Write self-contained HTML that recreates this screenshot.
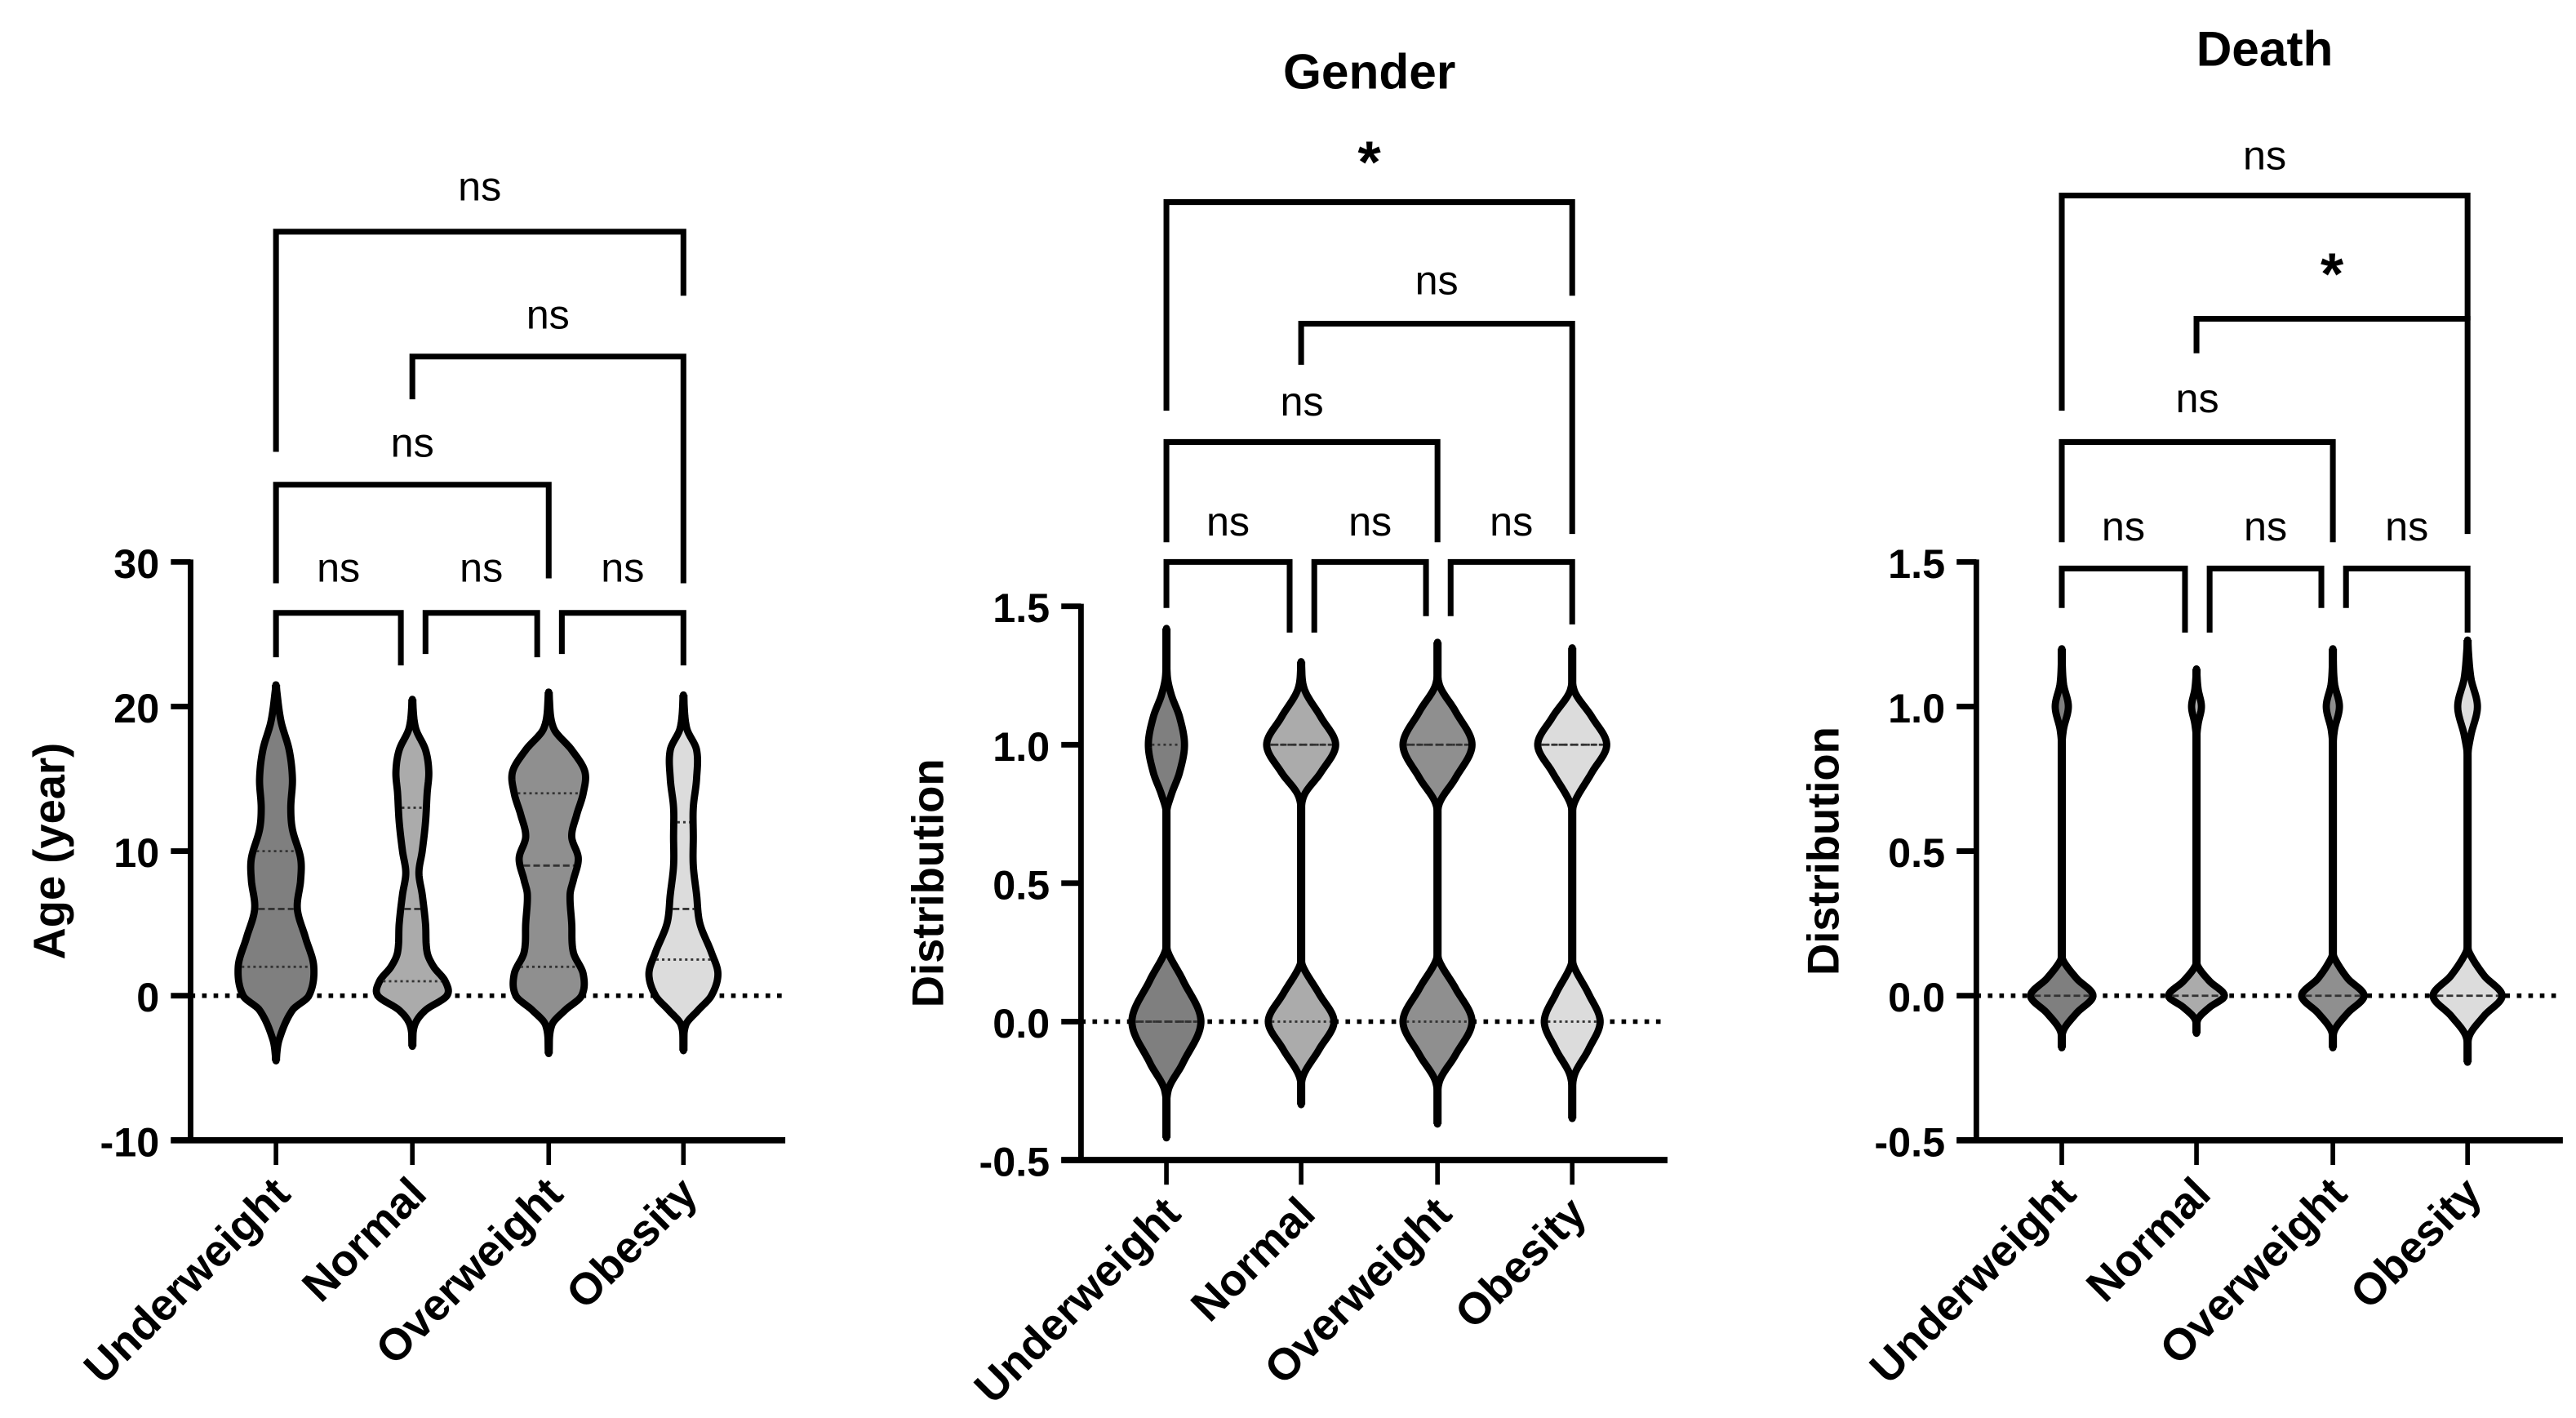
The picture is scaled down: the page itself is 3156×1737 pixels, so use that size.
<!DOCTYPE html>
<html><head><meta charset="utf-8"><style>
html,body{margin:0;padding:0;background:#fff}
svg{display:block}
text{font-family:"Liberation Sans",Arial,sans-serif;fill:#000}
</style></head>
<body>
<svg id="chart" xmlns="http://www.w3.org/2000/svg" width="3156" height="1737" viewBox="0 0 1568 863" preserveAspectRatio="none"></svg>
<script>
const categories = ['Underweight','Normal','Overweight','Obesity'];
const fills = ['#7f7f7f','#ababab','#8f8f8f','#dcdcdc'];

// Age panel: density knots [value, density]
const ageUnderweight = [[-4.5,0],[-3,2],[-1,10],[0,20],[2,23],[4,18],[6,13],[8,15],[9.5,15],[11.5,10],[13,9],[15,10],[17,8],[19,3],[21.5,0]];
const ageNormal = [[-3.5,0],[-2,1.5],[-1,8],[0,21],[1,20],[2,13],[3,9],[5,8],[7,6],[8.5,4],[10,6],[12,8],[14,9],[15.5,10],[17,8],[18.5,2],[20.5,0]];
const ageOverweight = [[-4,0],[-2,2],[-1,10],[0,20],[1.5,21],[3,15],[5,14],[7,13],[8,15],[9.5,18],[11,14],[12.5,17],[14,21],[15.5,22],[17,14],[18.5,3],[21,0]];
const ageObesity = [[-3.8,0],[-2,1.5],[-1,9],[0,17],[1.5,21],[3,17],[5,10],[7,8],[9,6],[11,6],[13,6],[15,8],[17,8],[18.5,2],[20.8,0]];
const ageMedians = [6,6,9,6];
const ageQ1 = [2,1,2,2.5];
const ageQ3 = [10,13,14,12];

// Gender panel
const genUnderweight = [[-0.42,0],[-0.25,1],[-0.15,10],[0,21],[0.15,10],[0.25,1],[0.3,0],[0.75,0],[0.82,3],[0.9,8],[1,11],[1.1,8],[1.18,3],[1.25,0.5],[1.42,0]];
const genNormal = [[-0.3,0],[-0.2,1],[-0.1,11],[0,20],[0.1,11],[0.2,1],[0.25,0],[0.75,0],[0.82,2],[0.9,12],[1,21],[1.1,12],[1.2,2],[1.3,0]];
const genOverweight = [[-0.37,0],[-0.22,1],[-0.12,11],[0,21],[0.12,11],[0.22,1],[0.28,0],[0.75,0],[0.8,2],[0.88,11],[1,21],[1.12,11],[1.22,1],[1.37,0]];
const genObesity = [[-0.35,0],[-0.2,1],[-0.1,10],[0,17],[0.1,10],[0.2,1],[0.25,0],[0.75,0],[0.8,2],[0.9,12],[1,21],[1.1,12],[1.2,1],[1.35,0]];
const genMedians = [0,1,1,1];
const genQ1 = [0,0,0,0];
const genQ3 = [1,1,1,1];

// Death panel
const deathUnderweight = [[-0.18,0],[-0.12,1],[-0.06,9],[0,19],[0.06,9],[0.12,1],[0.15,0],[0.85,0],[0.92,1],[1,4],[1.08,1],[1.2,0]];
const deathNormal = [[-0.13,0],[-0.08,1],[-0.04,8],[0,17],[0.05,8],[0.1,1],[0.13,0],[0.88,0],[0.94,1],[1,3],[1.06,1],[1.13,0]];
const deathOverweight = [[-0.18,0],[-0.12,1],[-0.06,9],[0,19],[0.06,9],[0.13,1],[0.16,0],[0.85,0],[0.92,1],[1,4],[1.08,1],[1.2,0]];
const deathObesity = [[-0.23,0],[-0.14,1],[-0.07,10],[0,21],[0.07,10],[0.15,1],[0.19,0],[0.82,0],[0.9,2],[1,6],[1.1,2],[1.23,0]];
const deathMedians = [0,0,0,0];

const ageTicks = [30,20,10,0,-10];
const ageTickLabels = ['30','20','10','0','-10'];
const distTicks = [1.5,1.0,0.5,0.0,-0.5];
const distTickLabels = ['1.5','1.0','0.5','0.0','-0.5'];

const ageSig = ['ns','ns','ns','ns','ns','ns'];
const genSig = ['ns','ns','ns','ns','ns','*'];
const deathSig = ['ns','ns','ns','ns','*','ns'];

const NS='http://www.w3.org/2000/svg';
const svg=document.getElementById('chart');
function el(tag,attrs,parent){const e=document.createElementNS(NS,tag);for(const k in attrs)e.setAttribute(k,attrs[k]);(parent||svg).appendChild(e);return e;}

function interp(knots,v){
  if(v<=knots[0][0]||v>=knots[knots.length-1][0])return 0;
  let i=0;while(knots[i+1][0]<v)i++;
  const p0=knots[i],p1=knots[i+1];
  const h=p1[0]-p0[0],t=(v-p0[0])/h;
  const slope=(a,b)=>(b[1]-a[1])/(b[0]-a[0]);
  const m0=i>0?(slope(knots[i-1],p1)):slope(p0,p1);
  const m1=i+2<knots.length?slope(p0,knots[i+2]):slope(p0,p1);
  const t2=t*t,t3=t2*t;
  let y=(2*t3-3*t2+1)*p0[1]+(t3-2*t2+t)*h*m0+(-2*t3+3*t2)*p1[1]+(t3-t2)*h*m1;
  if(p0[1]===0&&p1[1]===0)y=0;
  return Math.max(0,y);
}

const panels=[
 {key:'age',ax:116,yTop:342,yBot:694,vmax:30,vmin:-10,ticks:ageTicks,tickLabels:ageTickLabels,catX:[168,251,334,416],xEnd:478,
  data:[ageUnderweight,ageNormal,ageOverweight,ageObesity],med:ageMedians,q1:ageQ1,q3:ageQ3,ytitle:'Age (year)',ytx:30,title:null,sig:ageSig,
  br:[[0,1,373,400,405,346],[1,2,373,398,400,346],[2,3,373,398,405,346],[0,2,295,355,352,270],[1,3,217,243,355,192],[0,3,141,275,180,114]]},
 {key:'gender',ax:658,yTop:369,yBot:706,vmax:1.5,vmin:-0.5,ticks:distTicks,tickLabels:distTickLabels,catX:[710,792,875,957],xEnd:1015,
  data:[genUnderweight,genNormal,genOverweight,genObesity],med:genMedians,q1:genQ1,q3:genQ3,ytitle:'Distribution',ytx:565,title:'Gender',titleY:54,sig:genSig,
  br:[[0,1,342,370,385,318],[1,2,342,385,375,318],[2,3,342,375,380,318],[0,2,269,330,330,245],[1,3,197,222,325,171],[0,3,123,250,180,100]]},
 {key:'death',ax:1203,yTop:342,yBot:694,vmax:1.5,vmin:-0.5,ticks:distTicks,tickLabels:distTickLabels,catX:[1255,1337,1420,1502],xEnd:1560,
  data:[deathUnderweight,deathNormal,deathOverweight,deathObesity],med:deathMedians,q1:null,q3:null,ytitle:'Distribution',ytx:1110,title:'Death',titleY:40,sig:deathSig,
  br:[[0,1,346,370,385,321],[1,2,346,385,370,321],[2,3,346,370,385,321],[0,2,269,330,330,243],[1,3,194,215,325,168],[0,3,119,250,195,95]]}
];

panels.forEach(p=>{
  const g=el('g',{});
  
  
  const y=v=>p.yBot-(v-p.vmin)/(p.vmax-p.vmin)*(p.yBot-p.yTop);
  if(p.title){const t=el('text',{x:(p.catX[0]+p.catX[3])/2,y:p.titleY,'text-anchor':'middle','font-size':30,'font-weight':'bold'},g);t.textContent=p.title;
    }
  const cy=(p.yTop+p.yBot)/2;
  const yt=el('text',{x:p.ytx,y:cy,'text-anchor':'middle','dominant-baseline':'central','font-size':27,'font-weight':'bold',transform:`rotate(-90 ${p.ytx} ${cy})`},g);
  yt.textContent=p.ytitle;
  
  
  el('line',{x1:p.ax,x2:p.xEnd,y1:y(0),y2:y(0),stroke:'#000','stroke-width':2.8,'stroke-dasharray':'2.8 4.2'},g);
  p.data.forEach((k,i)=>{
    const cx=p.catX[i];
    const vg=el('g',{},g);
    
    
    const vmin=k[0][0],vmax=k[k.length-1][0];
    el('line',{x1:cx,x2:cx,y1:y(vmin),y2:y(vmax),stroke:'#000','stroke-width':5,'stroke-linecap':'butt'},vg);
    const N=240;let right=[],left=[];
    for(let s=0;s<=N;s++){const v=vmin+(vmax-vmin)*s/N;const w=interp(k,v);right.push([cx+w,y(v)]);left.push([cx-w,y(v)]);}
    const pts=right.concat(left.reverse());
    el('path',{d:'M'+pts.map(q=>q[0].toFixed(2)+','+q[1].toFixed(2)).join('L')+'Z',fill:fills[i],stroke:'#000','stroke-width':4.4,'stroke-linejoin':'round'},vg);
    const hl=(v,dash)=>{const w=interp(k,v)-2.2;if(w>1)el('line',{x1:cx-w,x2:cx+w,y1:y(v),y2:y(v),stroke:'#333','stroke-width':1.4,'stroke-dasharray':dash},vg);};
    hl(p.med[i],'4 2');
    if(p.q1){hl(p.q1[i],'1.5 2');hl(p.q3[i],'1.5 2');}
  });
  el('line',{x1:p.ax,x2:p.ax,y1:p.yTop-1.5,y2:p.yBot+1.5,stroke:'#000','stroke-width':3.4},g);
  el('line',{x1:p.ax-12,x2:p.xEnd,y1:p.yBot,y2:p.yBot,stroke:'#000','stroke-width':3.8},g);
  p.ticks.forEach((v,i)=>{
    el('line',{x1:p.ax-12,x2:p.ax,y1:y(v),y2:y(v),stroke:'#000','stroke-width':3.4},g);
    const t=el('text',{x:p.ax-19,y:y(v)+1,'text-anchor':'end','dominant-baseline':'central','font-size':25,'font-weight':'bold'},g);
    t.textContent=p.tickLabels[i];
    
    
  });
  p.catX.forEach((x,i)=>{
    el('line',{x1:x,x2:x,y1:p.yBot,y2:p.yBot+15,stroke:'#000','stroke-width':2.8},g);
    const tx=x+10,ty=p.yBot+34;
    const t=el('text',{x:tx,y:ty,'text-anchor':'end','font-size':27,'font-weight':'bold',transform:`rotate(-45 ${tx} ${ty})`},g);
    t.textContent=categories[i];
    
    
  });
  p.br.forEach((b,j)=>{
    const x1=p.catX[b[0]]+(j<3&&b[0]>0?8:0),x2=p.catX[b[1]]-(j<3&&b[1]<3?7:0);
    const bg=el('g',{},g);
    
    
    el('path',{d:`M${x1},${b[3]}V${b[2]}H${x2}V${b[4]}`,fill:'none',stroke:'#000','stroke-width':3.5},bg);
    const star=p.sig[j]==='*';
    const t=el('text',{x:(x1+x2)/2,y:star?b[5]+11:b[5]+8,'text-anchor':'middle','font-size':star?36:25,'font-weight':star?'bold':'normal'},bg);
    t.textContent=p.sig[j];
  });
});
</script>
</body></html>
